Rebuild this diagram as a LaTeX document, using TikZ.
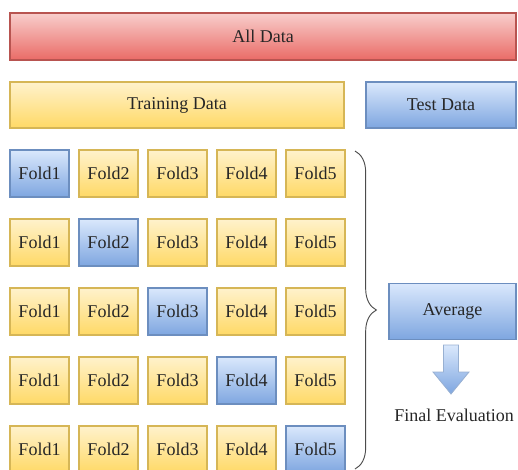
\documentclass[tikz,border=0pt]{standalone}
\usepackage{fontspec}
\setmainfont{Liberation Serif}
\usetikzlibrary{decorations.pathreplacing}
\definecolor{redtop}{HTML}{F8CECC}
\definecolor{redbot}{HTML}{EA6B66}
\definecolor{redline}{HTML}{B85450}
\definecolor{yeltop}{HTML}{FFF2CC}
\definecolor{yelbot}{HTML}{FFD966}
\definecolor{yelline}{HTML}{D6B656}
\definecolor{blutop}{HTML}{DAE8FC}
\definecolor{blubot}{HTML}{7EA6E0}
\definecolor{bluline}{HTML}{6C8EBF}
\tikzset{
  lbl/.style={font=\fontsize{13.5pt}{15pt}\selectfont, text=black!85},
  box/.style={rectangle, inner sep=0pt, line width=0.9pt, lbl},
  redbox/.style={box, top color=redtop, bottom color=redbot, draw=redline},
  yelbox/.style={box, top color=yeltop, bottom color=yelbot, draw=yelline},
  blubox/.style={box, top color=blutop, bottom color=blubot, draw=bluline},
  foldbox/.style={minimum width=44.25pt, minimum height=35.25pt},
}
\begin{document}
\begin{tikzpicture}[x=0.75pt, y=-0.75pt]
\useasboundingbox (0,0) rectangle (518,469);

% top level split
\node[redbox, minimum width=379.5pt, minimum height=35.25pt] (all) at (263,36.5) {All Data};
\node[yelbox, minimum width=250.5pt, minimum height=34.5pt] (train) at (177,105) {Training Data};
\node[blubox, minimum width=112.5pt, minimum height=34.5pt] (test) at (441,105) {Test Data};

% five rounds of folds, the held-out fold in blue
\foreach \r in {1,...,5}{
  \foreach \c in {1,...,5}{
    \pgfmathsetmacro{\cx}{39.5+69*(\c-1)}
    \pgfmathsetmacro{\cy}{173.5+69*(\r-1)}
    \ifnum\r=\c
      \node[blubox, foldbox] (f\r\c) at (\cx,\cy) {Fold\c};
    \else
      \node[yelbox, foldbox] (f\r\c) at (\cx,\cy) {Fold\c};
    \fi
  }
}

% brace grouping all rounds
\coordinate (btop) at (355,151);
\coordinate (bbot) at (355,469);
\draw[line width=0.7pt, black!70, decorate, decoration={brace, amplitude=16pt}] (btop) -- (bbot);

\node[blubox, minimum width=95.25pt, minimum height=42pt] (avg) at (452.5,311.5) {Average};

% down arrow to the final result
\shade[top color=blutop, bottom color=blubot, draw=bluline!70, line width=0.6pt]
  (443.5,345) -- (458.5,345) -- (458.5,372) -- (469,372) -- (451,394)
  -- (433,372) -- (443.5,372) -- cycle;

\node[lbl, anchor=west, inner sep=0pt] (final) at (394,415) {Final Evaluation};
\end{tikzpicture}
\end{document}
